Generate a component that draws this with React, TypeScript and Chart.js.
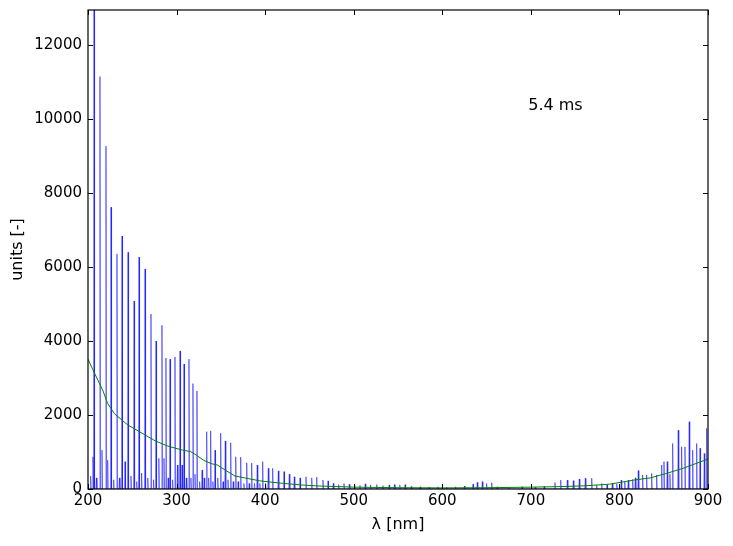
import React, { useEffect, useRef } from "react";
import { Chart, registerables } from "chart.js";

Chart.register(...registerables);

// Spectrum peaks (wavelength in nm, counts)
const peakNm = [
  203.0, 205.6, 206.8, 209.5, 213.5, 215.8, 220.3, 222.2, 226.0, 229.0,
  232.7, 235.5, 238.4, 241.8, 245.2, 248.5, 252.0, 255.0, 257.6, 260.5,
  264.4, 267.5, 271.1, 274.0, 276.8, 280.0, 283.5, 285.8, 288.0, 290.5,
  292.6, 295.5, 298.2, 301.0, 303.9, 306.2, 308.4, 311.0, 314.0, 316.2,
  318.5, 320.8, 323.0, 326.0, 328.8, 331.2, 334.0, 336.2, 338.5, 341.0,
  343.4, 346.5, 349.8, 352.5, 355.0, 358.0, 361.1, 364.0, 366.8, 369.5,
  372.4, 376.0, 379.2, 382.0, 384.8, 388.0, 391.1, 394.0, 397.2, 400.5,
  403.6, 408.5, 414.9, 421.3, 427.3, 432.9, 439.4, 446.1, 452.6, 458.2,
  465.3, 471.0, 477.0, 483.0, 489.0, 495.0, 501.0, 507.0, 513.0, 519.0,
  526.0, 533.0, 540.0, 546.0, 552.0, 558.0, 565.0, 575.0, 585.0, 595.0,
  605.0, 615.0, 625.0, 634.7, 639.5, 645.2, 650.0, 655.8, 662.0, 675.0,
  690.0, 705.0, 715.0, 727.2, 733.7, 741.2, 748.0, 754.7, 761.5, 768.7,
  774.3, 780.0, 786.0, 792.0, 797.0, 802.0, 806.0, 810.0, 815.0, 818.0,
  821.3, 826.2, 830.7, 836.4, 842.0, 847.7, 850.3, 854.0, 857.0, 860.1,
  866.4, 870.2, 874.0, 878.8, 882.7, 887.2, 891.0, 895.8, 898.5,
];
const peakCounts = [
  350, 870, 13100, 300, 11150, 1050, 9270, 780, 7620, 250,
  6350, 300, 6840, 740, 6400, 350, 5080, 200, 6270, 430,
  5950, 300, 4730, 250, 4000, 830, 4430, 830, 3540, 300,
  3510, 250, 3570, 650, 3730, 650, 3380, 300, 3510, 300,
  2850, 400, 2650, 200, 510, 300, 1550, 300, 1570, 200,
  1050, 300, 1510, 200, 1300, 250, 1250, 200, 870, 200,
  860, 150, 710, 150, 700, 150, 650, 150, 740, 150,
  560, 560, 490, 470, 400, 330, 300, 330, 300, 320,
  240, 220, 150, 120, 150, 130, 120, 100, 140, 110,
  120, 90, 110, 120, 110, 120, 70, 60, 50, 60,
  50, 60, 80, 130, 180, 200, 150, 170, 60, 50,
  60, 50, 70, 170, 240, 240, 225, 270, 290, 290,
  110, 150, 120, 160, 140, 240, 200, 240, 260, 300,
  500, 380, 380, 420, 380, 650, 740, 740, 400, 1230,
  1590, 1140, 1140, 1820, 1050, 1230, 1100, 960, 1640,
];

// Smooth background curve
const smoothNm = [
  200, 205, 211, 217, 222, 230, 245, 261, 276, 290,
  307, 316, 322, 331, 340, 346, 355, 366, 377, 394,
  417, 440, 462, 500, 552, 600, 650, 700, 733, 760,
  789, 816, 835, 853, 872, 891, 900,
];
const smoothCounts = [
  3510, 3250, 2950, 2650, 2320, 2030, 1730, 1510, 1300, 1160,
  1050, 1010, 920, 770, 680, 650, 510, 350, 300, 220,
  160, 110, 80, 50, 35, 30, 35, 50, 65, 85,
  130, 240, 300, 420, 560, 730, 810,
];

const xTicks = [200, 300, 400, 500, 600, 700, 800, 900];
const yTicks = [0, 2000, 4000, 6000, 8000, 10000, 12000];
const annotationText = "5.4 ms";
const annotationNm = 697;
const annotationCounts = 10350;
const xLabel = "λ [nm]";
const yLabel = "units [-]";

const FONT = "'DejaVu Sans', sans-serif";

export default function App() {
  const ref = useRef<HTMLCanvasElement>(null);

  useEffect(() => {
    document.body.style.margin = "0";
    const canvas = ref.current;
    if (!canvas) return;

    const spikes: { x: number; y: number }[] = [];
    peakNm.forEach((p, i) => {
      spikes.push({ x: p - 0.6, y: 0 });
      spikes.push({ x: p, y: peakCounts[i] });
      spikes.push({ x: p + 0.6, y: 0 });
    });
    const smooth = smoothNm.map((v, i) => ({ x: v, y: smoothCounts[i] }));

    const framePlugin = {
      id: "frame",
      afterDatasetsDraw(chart: any) {
        const { ctx, chartArea } = chart;
        const { left, right, top, bottom } = chartArea;
        const xs = chart.scales.x;
        const ys = chart.scales.y;
        ctx.save();
        ctx.strokeStyle = "#000";
        ctx.lineWidth = 1.2;
        ctx.strokeRect(left, top, right - left, bottom - top);
        ctx.lineWidth = 1;
        ctx.beginPath();
        xTicks.forEach((v) => {
          const px = Math.round(xs.getPixelForValue(v)) + 0.5;
          ctx.moveTo(px, bottom);
          ctx.lineTo(px, bottom - 5);
          ctx.moveTo(px, top);
          ctx.lineTo(px, top + 5);
        });
        yTicks.forEach((v) => {
          const py = Math.round(ys.getPixelForValue(v)) + 0.5;
          ctx.moveTo(left, py);
          ctx.lineTo(left + 5, py);
          ctx.moveTo(right, py);
          ctx.lineTo(right - 5, py);
        });
        ctx.stroke();

        ctx.fillStyle = "#000";
        ctx.font = `16px ${FONT}`;
        ctx.textAlign = "left";
        ctx.textBaseline = "middle";
        ctx.fillText(
          annotationText,
          xs.getPixelForValue(annotationNm),
          ys.getPixelForValue(annotationCounts)
        );

        ctx.textAlign = "center";
        ctx.fillText(xLabel, (left + right) / 2, 525);
        ctx.translate(18, (top + bottom) / 2);
        ctx.rotate(-Math.PI / 2);
        ctx.fillText(yLabel, 0, 0);
        ctx.restore();
      },
    };

    const chart = new Chart(canvas, {
      type: "line",
      data: {
        datasets: [
          {
            data: smooth,
            borderColor: "#008000",
            borderWidth: 1,
            pointRadius: 0,
            tension: 0,
            order: 0,
            clip: 0,
          },
          {
            data: spikes,
            borderColor: "rgba(0,0,255,0.5)",
            borderWidth: 1,
            pointRadius: 0,
            tension: 0,
            borderJoinStyle: "bevel",
            order: 1,
            clip: 0,
          },
        ],
      },
      options: {
        responsive: false,
        animation: false,
        events: [],
        parsing: false,
        normalized: true,
        layout: { padding: { top: 10, right: 25, left: 0, bottom: 0 } },
        plugins: {
          legend: { display: false },
          tooltip: { enabled: false },
        },
        scales: {
          x: {
            type: "linear",
            min: 200,
            max: 900,
            grid: { display: false, drawTicks: false },
            border: { display: false },
            afterFit: (s: any) => {
              s.height = 57;
              s.paddingLeft = 0;
              s.paddingRight = 0;
            },
            afterBuildTicks: (s: any) => {
              s.ticks = xTicks.map((v) => ({ value: v }));
            },
            ticks: {
              padding: 3,
              color: "#000",
              font: { family: FONT, size: 15 },
              maxRotation: 0,
              autoSkip: false,
              callback: (v: any) => String(v),
            },
          },
          y: {
            type: "linear",
            min: 0,
            max: 12950,
            grid: { display: false, drawTicks: false },
            border: { display: false },
            afterFit: (s: any) => {
              s.width = 88;
              s.paddingTop = 0;
              s.paddingBottom = 0;
            },
            afterBuildTicks: (s: any) => {
              s.ticks = yTicks.map((v) => ({ value: v }));
            },
            ticks: {
              padding: 6,
              color: "#000",
              font: { family: FONT, size: 15 },
              autoSkip: false,
              callback: (v: any) => String(v),
            },
          },
        },
      },
      plugins: [framePlugin],
    } as any);

    return () => chart.destroy();
  }, []);

  return (
    <div style={{ position: "absolute", left: 0, top: 0, width: 733, height: 546 }}>
      <canvas ref={ref} width={733} height={546} style={{ display: "block" }} />
    </div>
  );
}
